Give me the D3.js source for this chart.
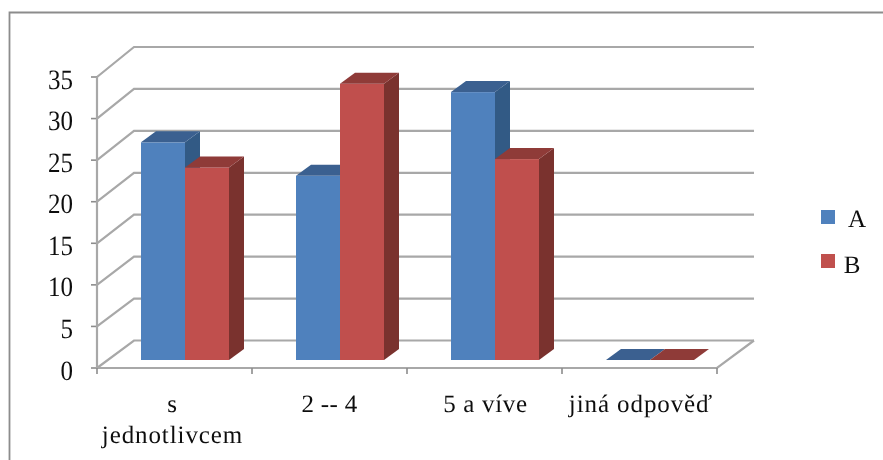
<!DOCTYPE html>
<html><head><meta charset="utf-8">
<script src="https://cdn.jsdelivr.net/npm/d3@7/dist/d3.min.js"></script>
<style>html,body{margin:0;padding:0;background:#fff}svg{display:block}text{text-rendering:geometricPrecision}</style>
</head><body><svg id="c" width="883" height="460"></svg>
<script>
const categories=["s jednotlivcem","2 -- 4","5 a víve","jiná odpověď"];
const catLines=[["s","jednotlivcem"],["2 -- 4"],["5 a víve"],["jiná odpověď"]];
const seriesNames=["A","B"];
const valuesA=[26,22,32,0];
const valuesB=[23,33,24,0];
const yTicks=[0,5,10,15,20,25,30,35];
const colors={A:["#4f81bd","#3a6090","#335a85"],B:["#c0504d","#8f3b39","#7a302e"]};
const svg=d3.select("#c");
const defs=svg.append("defs");
const blur=defs.append("filter").attr("id","soft").attr("x","-5%").attr("y","-5%").attr("width","110%").attr("height","110%");
blur.append("feGaussianBlur").attr("stdDeviation",0.6);
const blurT=defs.append("filter").attr("id","softT").attr("x","-5%").attr("y","-5%").attr("width","110%").attr("height","110%");
blurT.append("feGaussianBlur").attr("stdDeviation",0.3);
const grid="#a8a8a8";
svg.append("path").attr("d","M9.5,460V12.5H883").attr("fill","none").attr("stroke","#8c8c8c").attr("stroke-width",1.8);
const front={x0:97,x1:717,y0:368,y1:77},backDx=37;
const yFront=d3.scaleLinear().domain([0,35]).range([front.y0,front.y1]);
const yBack=d3.scaleLinear().domain([0,35]).range([340.5,47]);
const xFront=d3.scaleBand().domain(categories).range([front.x0,front.x1]);
const g=svg.append("g").attr("filter","url(#soft)");
yTicks.forEach(t=>{
  const y=yFront(t),yb=yBack(t);
  g.append("path").attr("d",`M${front.x0},${y}L${front.x0+backDx},${yb}H${front.x1+backDx}`).attr("fill","none").attr("stroke",grid).attr("stroke-width",2.2);
  g.append("line").attr("x1",front.x0-6).attr("x2",front.x0).attr("y1",y).attr("y2",y).attr("stroke","#8c8c8c").attr("stroke-width",1.6);
});
g.append("line").attr("x1",front.x0).attr("x2",front.x0).attr("y1",front.y1).attr("y2",front.y0).attr("stroke",grid).attr("stroke-width",2.2);
g.append("path").attr("d",`M${front.x0},${front.y0}H${front.x1}L${front.x1+backDx},${yBack(0)}`).attr("fill","none").attr("stroke",grid).attr("stroke-width",2.2);
xFront.domain().forEach(c=>g.append("line").attr("x1",xFront(c)).attr("x2",xFront(c)).attr("y1",front.y0).attr("y2",front.y0+6).attr("stroke","#8c8c8c").attr("stroke-width",1.6));
g.append("line").attr("x1",front.x1).attr("x2",front.x1).attr("y1",front.y0).attr("y2",front.y0+6).attr("stroke","#8c8c8c").attr("stroke-width",1.6);
const barW=44,bdx=15,bdy=-11,barShift=10.5;
const yBar=d3.scaleLinear().domain([0,35]).range([360,67]);
const inner=d3.scaleBand().domain(seriesNames).range([0,barW*2]);
function bar(cat,s,v){
  const x=xFront(cat)+(xFront.bandwidth()-barW*2)/2+barShift+inner(s),w=barW,yt=yBar(v),yb=yBar(0),c=colors[s];
  if(v>0){
    g.append("path").attr("d",`M${x+w},${yt}l${bdx},${bdy}V${yb+bdy}l${-bdx},${-bdy}Z`).attr("fill",c[2]);
    g.append("rect").attr("x",x).attr("y",yt).attr("width",w).attr("height",yb-yt).attr("fill",c[0]);
  }
  g.append("path").attr("d",`M${x},${yt}l${bdx},${bdy}h${w}l${-bdx},${-bdy}Z`).attr("fill",c[1]);
}
categories.forEach((c,i)=>{bar(c,"A",valuesA[i]);bar(c,"B",valuesB[i]);});
const font="'Liberation Serif','Times New Roman',serif";
const tg=svg.append("g").attr("filter","url(#softT)");
yTicks.forEach(t=>tg.append("text").attr("transform",`translate(73,${yFront(t)+11.5}) scale(1,1.12)`).attr("text-anchor","end").attr("font-family",font).attr("font-size",25).attr("fill","#111").text(t));
const catDx=[-2,0,1,1.5],catLs=[0.9,0.3,0.7,0.9];
categories.forEach((c,i)=>{
  catLines[i].forEach((l,j)=>tg.append("text").attr("x",xFront(c)+xFront.bandwidth()/2+catDx[i]).attr("y",412+j*31).attr("text-anchor","middle").attr("font-family",font).attr("font-size",25).attr("letter-spacing",catLs[i]).attr("fill","#111").text(l));
});
const legY=[217,261],legT=[857,852],legB=[227,273];
seriesNames.forEach((s,i)=>{
  svg.append("rect").attr("x",821).attr("y",legY[i]-7).attr("width",14).attr("height",14).attr("fill",colors[s][0]);
  tg.append("text").attr("x",legT[i]).attr("y",legB[i]).attr("text-anchor","middle").attr("font-family",font).attr("font-size",25).attr("fill","#111").text(s);
});
</script></body></html>
